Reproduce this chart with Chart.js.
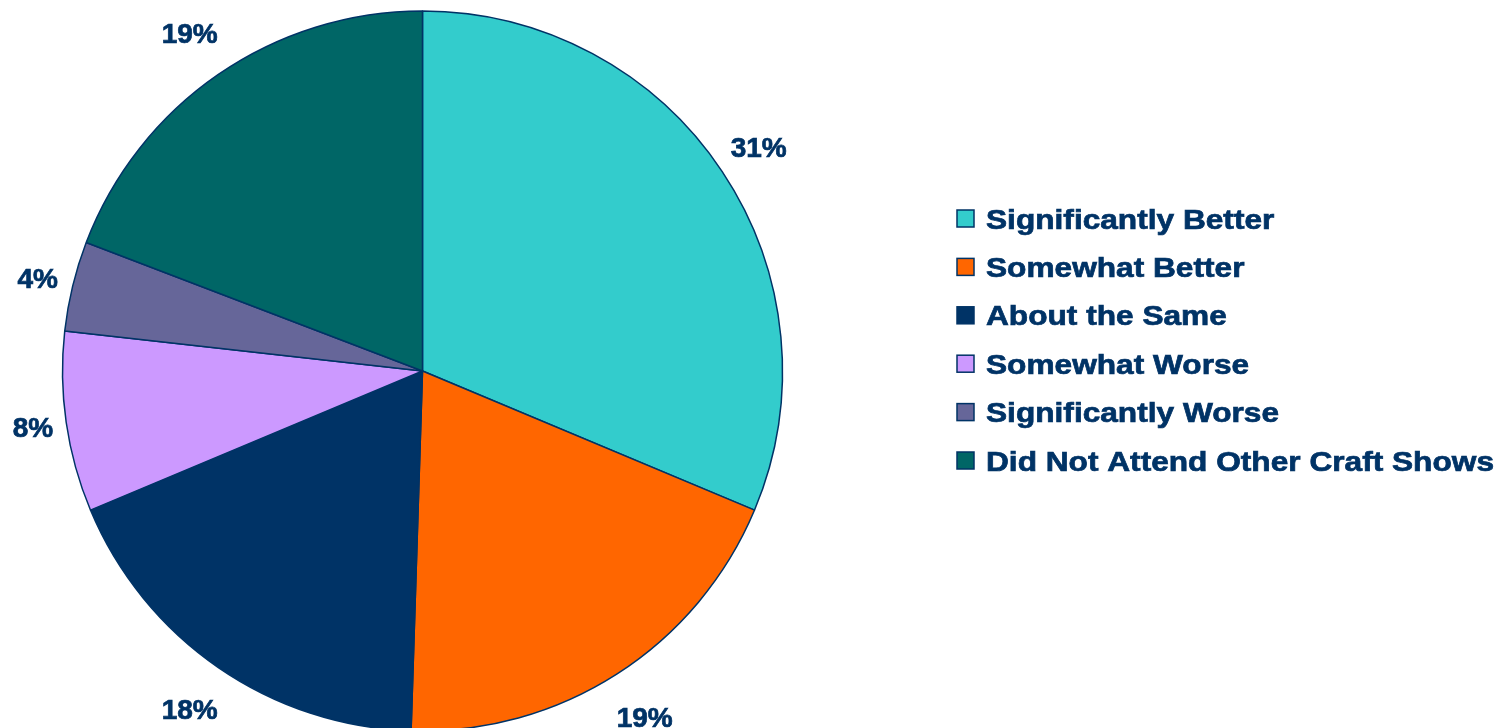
<!DOCTYPE html>
<html>
<head>
<meta charset="utf-8">
<script src="https://cdn.jsdelivr.net/npm/chart.js@4.4.1/dist/chart.umd.min.js"></script>
<style>
  html, body { margin: 0; padding: 0; background: #fff; overflow: hidden; }
  #wrap { position: absolute; left: 0; top: 0; width: 1510px; height: 742px; }
</style>
</head>
<body>
<div id="wrap"><canvas id="pie"></canvas></div>
<script>
const categories = ['Significantly Better', 'Somewhat Better', 'About the Same', 'Somewhat Worse', 'Significantly Worse', 'Did Not Attend Other Craft Shows'];
const shares = [31, 19, 18, 8, 4, 19];
const sliceColors = ['#33CCCC', '#FF6600', '#003366', '#CC99FF', '#666699', '#006666'];

const TEXT_COLOR = '#003366';
const FONT = 'bold 28px "Liberation Sans", Arial, sans-serif';

function boldText(ctx, txt, x, y) {
  ctx.fillText(txt, x, y);
  ctx.strokeText(txt, x, y);
}

// percent labels sitting just outside each slice
const outsideLabels = {
  id: 'outsideLabels',
  afterDatasetsDraw(chart) {
    const ctx = chart.ctx;
    const arcs = chart.getDatasetMeta(0).data;
    ctx.save();
    ctx.font = FONT;
    ctx.fillStyle = TEXT_COLOR;
    ctx.strokeStyle = TEXT_COLOR;
    ctx.lineWidth = 0.7;
    ctx.textAlign = 'center';
    ctx.textBaseline = 'alphabetic';
    arcs.forEach((arc, i) => {
      const { x, y, startAngle, endAngle, outerRadius } = arc.getProps(['x', 'y', 'startAngle', 'endAngle', 'outerRadius'], true);
      const mid = (startAngle + endAngle) / 2;
      const d = outerRadius + 30 + 25 * Math.abs(Math.sin(mid));
      const cx = x + Math.cos(mid) * d;
      const cy = y + Math.sin(mid) * d;
      boldText(ctx, shares[i] + '%', cx, cy + 10);
    });
    ctx.restore();
  }
};

// legend on the right, text slightly stretched like the original
const sideLegend = {
  id: 'sideLegend',
  afterDraw(chart) {
    const ctx = chart.ctx;
    const left = 957, top = 218.5, step = 48.4, box = 17;
    ctx.save();
    ctx.font = FONT;
    categories.forEach((name, i) => {
      const cy = top + i * step;
      ctx.fillStyle = sliceColors[i];
      ctx.fillRect(left, cy - box / 2, box, box);
      ctx.lineWidth = 1.5;
      ctx.strokeStyle = TEXT_COLOR;
      ctx.strokeRect(left, cy - box / 2, box, box);
      ctx.fillStyle = TEXT_COLOR;
      ctx.lineWidth = 0.7;
      ctx.save();
      ctx.translate(986, cy + 10);
      ctx.scale(1.13, 1);
      boldText(ctx, name, 0, 0);
      ctx.restore();
    });
    ctx.restore();
  }
};

new Chart(document.getElementById('pie'), {
  type: 'pie',
  data: {
    labels: categories,
    datasets: [{
      data: shares,
      backgroundColor: sliceColors,
      borderColor: '#003366',
      borderWidth: 1.5
    }]
  },
  options: {
    responsive: true,
    maintainAspectRatio: false,
    animation: false,
    radius: 360,
    layout: { padding: { left: 0, right: 665, top: 0, bottom: 0 } },
    plugins: {
      legend: { display: false },
      tooltip: { enabled: false }
    }
  },
  plugins: [outsideLabels, sideLegend]
});
</script>
</body>
</html>
